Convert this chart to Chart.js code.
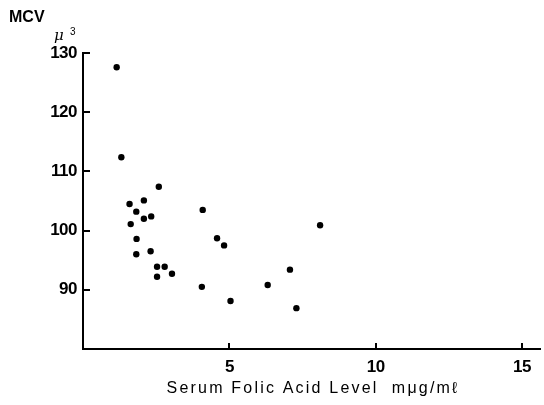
<!DOCTYPE html>
<html>
<head>
<meta charset="utf-8">
<script src="https://cdn.jsdelivr.net/npm/chart.js@4.4.0/dist/chart.umd.min.js"></script>
<style>
html,body{margin:0;padding:0;background:#fff;}
#wrap{width:544px;height:405px;position:relative;}
</style>
</head>
<body>
<div id="wrap"><canvas id="c" width="544" height="405"></canvas></div>
<script>
// Serum folic acid level (mμg/mℓ)
const folicAcid = [1.15, 1.31, 2.59, 2.08, 1.59, 1.82, 2.08, 2.33, 1.63, 1.83, 1.82, 2.31, 2.53, 2.79, 2.53, 3.04, 4.09, 4.58, 4.82, 8.10, 7.07, 4.06, 6.31, 5.04, 7.29];
// MCV (μ³)
const mcv = [127.6, 112.4, 107.4, 105.1, 104.5, 103.2, 102.0, 102.4, 101.1, 98.6, 96.0, 96.5, 93.9, 93.9, 92.2, 92.7, 103.5, 98.7, 97.5, 100.9, 93.4, 90.5, 90.8, 88.1, 86.9];
const xTickValues = [5, 10, 15];
const yTickValues = [90, 100, 110, 120, 130];
const xTitle = "Serum Folic Acid Level  m\u03bcg/m\u2113";
const yTitle = "MCV";
const yUnit = "\u03bc";
const yUnitSup = "3";

const points = folicAcid.map((x, i) => ({x: x, y: mcv[i]}));

const decor = {
  id: 'decor',
  beforeDraw(chart) {
    // slightly condensed look for the tick labels
    chart.ctx.letterSpacing = '-0.5px';
  },
  afterDraw(chart) {
    const ctx = chart.ctx;
    const xs = chart.scales.x, ys = chart.scales.y;
    const area = chart.chartArea;
    ctx.save();
    ctx.letterSpacing = '0px';
    ctx.strokeStyle = '#000';
    ctx.lineWidth = 2;
    ctx.beginPath();
    yTickValues.forEach(v => {
      const py = Math.round(ys.getPixelForValue(v));
      ctx.moveTo(area.left - 1, py);
      ctx.lineTo(area.left + 7, py);
    });
    xTickValues.forEach(v => {
      const px = Math.round(xs.getPixelForValue(v));
      ctx.moveTo(px, area.bottom);
      ctx.lineTo(px, area.bottom - 6);
    });
    ctx.stroke();

    ctx.fillStyle = '#000';
    ctx.textBaseline = 'alphabetic';
    // y title
    ctx.font = 'bold 16px "Liberation Sans", Arial, sans-serif';
    ctx.textAlign = 'left';
    ctx.fillText(yTitle, 9, 22);
    ctx.font = 'italic 15px "DejaVu Serif", serif';
    ctx.fillText(yUnit, 54, 40);
    ctx.font = '10px "Liberation Sans", Arial, sans-serif';
    ctx.fillText(yUnitSup, 70, 35);
    // x title
    ctx.font = '16px "Liberation Sans", Arial, sans-serif';
    ctx.letterSpacing = '2.2px';
    ctx.textAlign = 'center';
    ctx.fillText(xTitle, 313, 393);
    ctx.restore();
    ctx.letterSpacing = '0px';
  }
};

const tickFont = {family: '"Liberation Sans", Arial, sans-serif', size: 17, weight: 'bold'};

new Chart(document.getElementById('c'), {
  type: 'scatter',
  data: {
    datasets: [{
      data: points,
      backgroundColor: '#000',
      borderColor: '#000',
      pointRadius: 3.2,
      pointHoverRadius: 3.2,
      borderWidth: 0
    }]
  },
  options: {
    responsive: false,
    animation: false,
    events: [],
    layout: {padding: {top: 53, right: 0, left: 0, bottom: 0}},
    plugins: {legend: {display: false}, tooltip: {enabled: false}, title: {display: false}},
    scales: {
      x: {
        type: 'linear',
        min: 0,
        max: 15.64,
        afterBuildTicks: s => { s.ticks = xTickValues.map(v => ({value: v})); },
        afterFit: s => { s.height = 56; },
        grid: {display: false, drawTicks: false},
        border: {display: true, color: '#000', width: 2},
        ticks: {
          color: '#000',
          padding: 8,
          maxRotation: 0,
          font: tickFont,
          callback: v => String(v)
        }
      },
      y: {
        type: 'linear',
        min: 80,
        max: 130,
        afterBuildTicks: s => { s.ticks = yTickValues.map(v => ({value: v})); },
        afterFit: s => { s.width = 83; },
        grid: {display: false, drawTicks: false},
        border: {display: true, color: '#000', width: 2},
        ticks: {
          color: '#000',
          padding: 6,
          font: tickFont,
          callback: v => String(v)
        }
      }
    }
  },
  plugins: [decor]
});
</script>
</body>
</html>
